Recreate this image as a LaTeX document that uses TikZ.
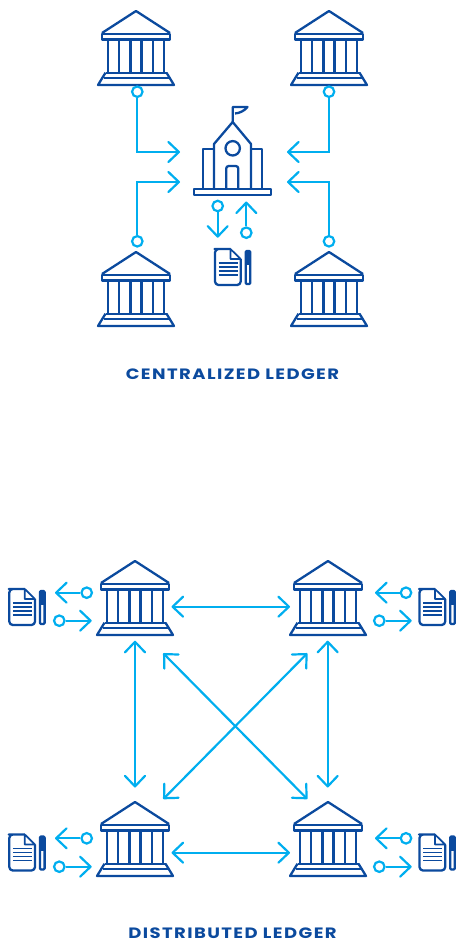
\documentclass[tikz,border=0pt]{standalone}
\usepackage{fontspec}
\setmainfont{Poppins}
\newfontfamily\titlefont[FakeStretch=1.2,LetterSpace=9.5]{Poppins}
\usetikzlibrary{arrows.meta}
\definecolor{ledgerblue}{HTML}{0B4A9E}
\definecolor{linkcyan}{HTML}{00AEEF}
\tikzset{
    icon/.style={ledgerblue, line width=2.3pt, line join=round},
    link/.style={linkcyan, line width=2.2pt, -{Straight Barb[length=10.5pt,width=20pt,line width=2.2pt,round]}},
    biglink/.style={link, {Straight Barb[length=10.5pt,width=20pt,line width=2.2pt,round]}-{Straight Barb[length=10.5pt,width=20pt,line width=2.2pt,round]}},
    dot/.style={circle, draw=linkcyan, line width=2.2pt, inner sep=0pt, minimum size=10.5pt},
    title/.style={text=ledgerblue, font=\titlefont\fontsize{15}{16}\selectfont\bfseries, inner sep=0pt},
    bank/.pic={
        \draw[icon] (-34,22) -- (0,0) -- (34,22);
        \draw[icon] (-34,23) rectangle (34,28.5);
        \draw[icon] (-28,28.5) -- (-28,61.7) (28,28.5) -- (28,61.7);
        \draw[icon] (-16.8,28.5) -- (-16.8,61.7) (-5.6,28.5) -- (-5.6,61.7);
        \draw[icon] (5.6,28.5) -- (5.6,61.7) (16.8,28.5) -- (16.8,61.7);
        \draw[icon] (-30.5,61.7) -- (30.5,61.7) (-32.5,66.7) -- (32.5,66.7);
        \draw[icon] (-30.5,61.7) -- (-38,74) -- (38,74) -- (30.5,61.7);
    },
    paper/.pic={
        \draw[icon, rounded corners=3.5pt] (15.5,0) -- (3,0) -- (0,0) -- (0,36) -- (25.7,36) -- (25.7,10);
        \draw[icon, line width=1.7pt] (15.5,0) -- (25.7,10) -- (15.5,10) -- cycle;
        \draw[ledgerblue, line width=1.7pt] (3.5,14) -- (22.5,14) (3.5,18) -- (22.5,18) (3.5,22) -- (22.5,22) (3.5,26) -- (22.5,26);
        \draw[icon, rounded corners=1pt] (30.7,2) rectangle (35.3,35);
        \fill[ledgerblue] (30.7,2) rectangle (35.3,16);
    },
}
\begin{document}
\begin{tikzpicture}[x=1pt, y=-1pt]
    \useasboundingbox (0,0) rectangle (456,942);

    % Centralized
    \pic at (136,11) {bank};
    \pic at (329,11) {bank};
    \pic at (136,252) {bank};
    \pic at (329,252) {bank};

    % school
    \draw[icon] (232.7,122) -- (232.7,107) -- (247.5,107) .. controls (244,111) and (240,113) .. (235,113.5);
    \draw[icon] (214,188.5) -- (214,144) -- (232.7,122) -- (251,144) -- (251,188.5);
    \draw[icon] (214,149.3) -- (203.3,149.3) -- (203.3,188.5);
    \draw[icon] (251,149.3) -- (262,149.3) -- (262,188.5);
    \draw[icon] (232.7,148.3) circle[radius=7.2pt];
    \draw[icon, rounded corners=2.5pt] (226.2,188.5) -- (226.2,166) -- (238.3,166) -- (238.3,188.5);
    \draw[icon] (194.3,188.7) rectangle (271,195);
    \pic at (215,249) {paper};

    \node[dot] (dotA) at (137.3,91.7) {};
    \node[dot] (dotB) at (329,91.7) {};
    \node[dot] (dotC) at (137.3,241.3) {};
    \node[dot] (dotD) at (329,241.3) {};
    \coordinate (inA) at (180,152);
    \coordinate (inB) at (287,152);
    \coordinate (inC) at (180,182);
    \coordinate (inD) at (287,182);
    \draw[link] (dotA) |- (inA);
    \draw[link] (dotB) |- (inB);
    \draw[link] (dotC) |- (inC);
    \draw[link] (dotD) |- (inD);

    \node[dot] (dotOut) at (217.7,206) {};
    \node[dot] (dotIn) at (246.3,232.7) {};
    \coordinate (tipOut) at (217.7,237.7);
    \coordinate (tipIn) at (246.3,201.5);
    \draw[link] (dotOut) -- (tipOut);
    \draw[link] (dotIn) -- (tipIn);

    \node[title] (central) at (232.5,374.5) {CENTRALIZED LEDGER};

    % Distributed
    \pic at (135,561) {bank};
    \pic at (328,561) {bank};
    \pic at (135,802) {bank};
    \pic at (328,802) {bank};

    \coordinate (hA) at (171.5,606.7);
    \coordinate (hB) at (290,606.7);
    \coordinate (hC) at (171.5,852.7);
    \coordinate (hD) at (290,852.7);
    \coordinate (vA) at (135,640.7);
    \coordinate (vB) at (135,787.5);
    \coordinate (vC) at (327.7,640.7);
    \coordinate (vD) at (327.7,787.5);
    \coordinate (xA) at (163.3,653.3);
    \coordinate (xB) at (307.3,799);
    \coordinate (xC) at (307.3,653.3);
    \coordinate (xD) at (163.3,799);
    \draw[biglink] (hA) -- (hB);
    \draw[biglink] (hC) -- (hD);
    \draw[biglink] (vA) -- (vB);
    \draw[biglink] (vC) -- (vD);
    \draw[biglink] (xA) -- (xB);
    \draw[biglink] (xC) -- (xD);

    % side papers
    \pic at (9.3,589) {paper};
    \pic at (419.5,589) {paper};
    \pic at (9.3,834.5) {paper};
    \pic at (419.5,834.5) {paper};

    \foreach \row/\upy/\lowy in {a/592.7/620.7, b/838.3/866.7} {
        \node[dot] (out\row) at (86.7,\upy) {};
        \node[dot] (back\row) at (59.3,\lowy) {};
        \coordinate (outtip\row) at (55,\upy);
        \coordinate (backtip\row) at (91.7,\lowy);
        \draw[link] (out\row) -- (outtip\row);
        \draw[link] (back\row) -- (backtip\row);
        \node[dot] (rout\row) at (406,\upy) {};
        \node[dot] (rback\row) at (379.3,\lowy) {};
        \coordinate (routtip\row) at (375,\upy);
        \coordinate (rbacktip\row) at (411.7,\lowy);
        \draw[link] (rout\row) -- (routtip\row);
        \draw[link] (rback\row) -- (rbacktip\row);
    }

    \node[title] (distrib) at (232.5,933) {DISTRIBUTED LEDGER};
\end{tikzpicture}
\end{document}
